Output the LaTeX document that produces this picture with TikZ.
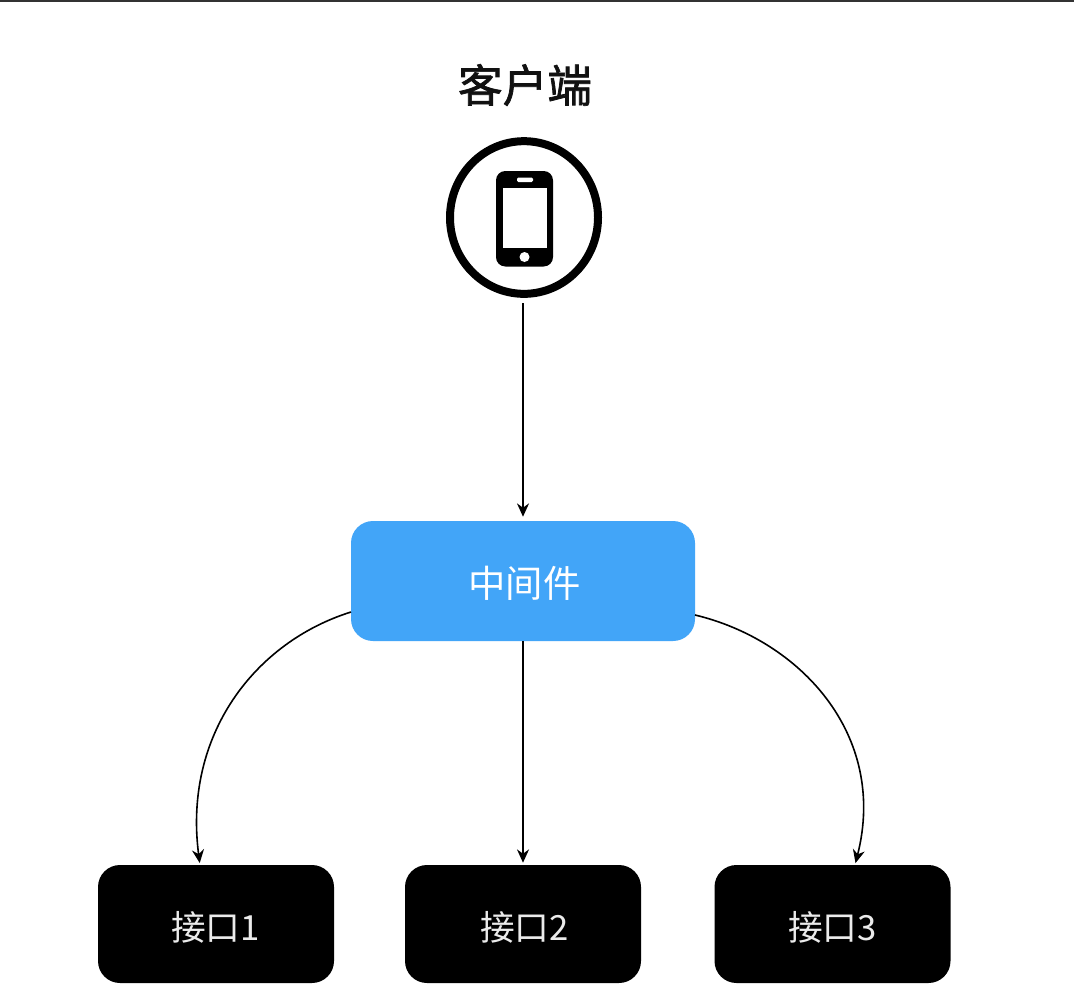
\documentclass[tikz,border=0pt]{standalone}
\usepackage{fontspec}
\newfontfamily\cjk{Noto Sans CJK SC}
\newfontfamily\cjkmed[FakeBold=1.6]{Noto Sans CJK SC}
\usetikzlibrary{arrows.meta,shapes.geometric}
\definecolor{midblue}{HTML}{42A5F8}
\definecolor{titleink}{HTML}{111111}
\tikzset{
  px/.style={x=0.75pt,y=-0.75pt},
  api/.style={draw=none,fill=black,rounded corners=16.5pt,minimum width=177pt,minimum height=88.5pt,inner sep=0pt},
  apilabel/.style={text=white!92!black,font=\cjk\fontsize{26}{29}\selectfont,inner sep=0pt},
  middle/.style={draw=none,fill=midblue,rounded corners=16.5pt,minimum width=258pt,minimum height=90pt,inner sep=0pt},
  conn/.style={draw=black,line width=1.2pt,-{Stealth[length=10pt,width=9pt]}},
}
\begin{document}
\begin{tikzpicture}[px]
\useasboundingbox (0,0) rectangle (1074,990);
\fill[white] (0,0) rectangle (1074,990);
\fill[black!80] (0,0) rectangle (1074,2);
\node[font=\cjkmed\fontsize{33.5}{37}\selectfont,text=titleink] (title) at (525,85) {客户端};
\node[ellipse,draw=black,line width=6pt,fill=white,minimum width=111pt,minimum height=114.5pt,inner sep=0pt] (client) at (524,217.5) {};
% phone
\fill[black,rounded corners=7pt] (496,171) rectangle (553,266.5);
\fill[white] (503,188) rectangle (547,248);
\fill[white,rounded corners=1pt] (517,177.5) rectangle (533,182);
\fill[white] (524.5,257) circle (5);
\node[middle] (mid) at (523,581) {};
\node[text=white,font=\cjk\fontsize{28}{31}\selectfont,inner sep=0pt] (midlabel) at (524.5,583) {中间件};
\node[api] (a1) at (216,924) {};
\node[api] (a2) at (523,924) {};
\node[api] (a3) at (832.5,924) {};
\node[apilabel] (l1) at (215.5,927) {接口1};
\node[apilabel] (l2) at (524.5,927) {接口2};
\node[apilabel] (l3) at (832.5,927) {接口3};
\coordinate (ml) at (351,612);
\coordinate (mr) at (695,615);
\coordinate (e1) at (200,865);
\coordinate (e3) at (855,865);
\draw[conn,shorten <=4pt,shorten >=3pt] (client.south -| mid.north) -- (mid.north);
\draw[conn,shorten >=1.5pt] (mid.south) -- (a2.north);
\draw[conn,shorten >=1.5pt] (ml) .. controls (255,642) and (183,735) .. (e1);
\draw[conn,shorten >=1.5pt] (mr) .. controls (800,640) and (888,735) .. (e3);
\end{tikzpicture}
\end{document}
